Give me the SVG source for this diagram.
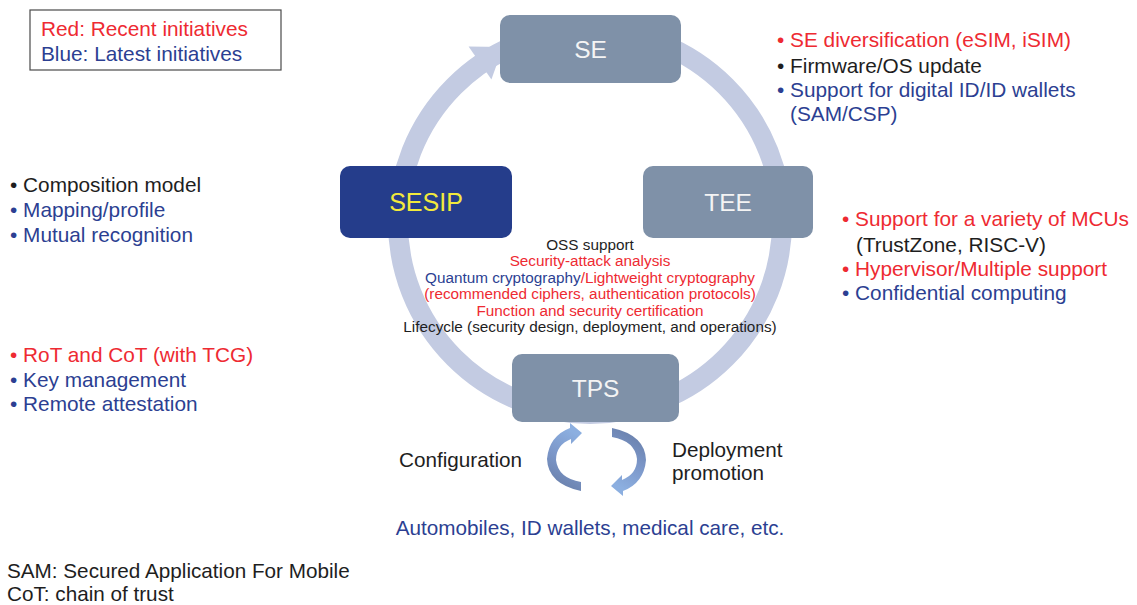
<svg xmlns="http://www.w3.org/2000/svg" width="1137" height="605" viewBox="0 0 1137 605">
  <defs>
    <style>
      text { font-family: "Liberation Sans", Arial, sans-serif; }
      .t { font-size: 20.8px; }
      .s { font-size: 15.3px; }
      .m { font-size: 20.7px; }
      .red { fill: #ee2a32; }
      .blue { fill: #2c3f92; }
      .blk { fill: #1e1e1e; }
      .box { fill: #7f91a8; }
      .boxlbl { font-size: 24.5px; fill: #f4f4f4; text-anchor: middle; }
      .ring { fill: none; stroke: #c3cbe2; stroke-width: 20; }
    </style>
    <linearGradient id="cyc" x1="0" y1="1" x2="0.3" y2="0">
      <stop offset="0" stop-color="#6479a2"/>
      <stop offset="0.55" stop-color="#7b96c8"/>
      <stop offset="1" stop-color="#8cafe0"/>
    </linearGradient>
  </defs>

  <rect width="1137" height="605" fill="#ffffff"/>

  <!-- legend -->
  <g id="legend">
    <rect x="30" y="10" width="251" height="60" fill="#ffffff" stroke="#4a4a4a" stroke-width="1.2"/>
    <text x="41" y="36" class="t red">Red: Recent initiatives</text>
    <text x="41" y="61" class="t blue">Blue: Latest initiatives</text>
  </g>

  <!-- cycle ring with arrowhead entering SE -->
  <g id="connectors">
    <circle cx="590" cy="222" r="192" class="ring"/>
    <polygon points="468.6,46.6 503,47 491.4,79.4" fill="#c3cbe2"/>
  </g>

  <g id="se">
    <rect x="500" y="15" width="181" height="68" rx="10" class="box"/>
    <text x="590.5" y="58" class="boxlbl">SE</text>
  </g>
  <g id="sesip">
    <rect x="340" y="166" width="172" height="72" rx="10" fill="#253d8b"/>
    <text x="426" y="211" class="boxlbl" style="fill:#f2e93c;font-size:25px">SESIP</text>
  </g>
  <g id="tee">
    <rect x="643" y="166" width="170" height="72" rx="10" class="box"/>
    <text x="728" y="211" class="boxlbl">TEE</text>
  </g>
  <g id="tps">
    <rect x="512" y="354" width="167" height="68" rx="10" class="box"/>
    <text x="595.5" y="397" class="boxlbl">TPS</text>
  </g>

  <!-- central topics -->
  <g id="center-topics" text-anchor="middle">
    <text x="590" y="250" class="s blk">OSS support</text>
    <text x="590" y="266" class="s red">Security-attack analysis</text>
    <text x="590" y="283" class="s"><tspan class="blue">Quantum cryptography</tspan><tspan class="red">/Lightweight cryptography</tspan></text>
    <text x="590" y="299" class="s red">(recommended ciphers, authentication protocols)</text>
    <text x="590" y="316" class="s red">Function and security certification</text>
    <text x="590" y="332" class="s blk">Lifecycle (security design, deployment, and operations)</text>
  </g>

  <!-- SE notes -->
  <g id="se-notes">
    <text x="777" y="47" class="t red">• SE diversification (eSIM, iSIM)</text>
    <text x="777" y="73" class="t blk">• Firmware/OS update</text>
    <text x="777" y="97" class="t blue">• Support for digital ID/ID wallets</text>
    <text x="790" y="121" class="t blue">(SAM/CSP)</text>
  </g>

  <!-- SESIP notes -->
  <g id="sesip-notes">
    <text x="10" y="192" class="t blk">• Composition model</text>
    <text x="10" y="217" class="t blue">• Mapping/profile</text>
    <text x="10" y="242" class="t blue">• Mutual recognition</text>
  </g>

  <!-- TEE notes -->
  <g id="tee-notes">
    <text x="842" y="226" class="t red">• Support for a variety of MCUs</text>
    <text x="856" y="252" class="t blk">(TrustZone, RISC-V)</text>
    <text x="842" y="276" class="t red">• Hypervisor/Multiple support</text>
    <text x="842" y="300" class="t blue">• Confidential computing</text>
  </g>

  <!-- TPS notes -->
  <g id="tps-notes">
    <text x="10" y="362" class="t red">• RoT and CoT (with TCG)</text>
    <text x="10" y="387" class="t blue">• Key management</text>
    <text x="10" y="411" class="t blue">• Remote attestation</text>
  </g>

  <!-- small configuration / deployment cycle -->
  <g id="mini-cycle">
    <path d="M 581,491 Q 548,484 547,459 Q 549,436 570,428 L 570,423 L 582,433 L 571,444 L 571,439 Q 556,445 556,460 Q 558,478 581,482 Z" fill="url(#cyc)"/>
    <path d="M 581,491 Q 548,484 547,459 Q 549,436 570,428 L 570,423 L 582,433 L 571,444 L 571,439 Q 556,445 556,460 Q 558,478 581,482 Z" fill="url(#cyc)" transform="rotate(180 596.5 459.5)"/>
  </g>
  <g id="configuration">
    <text x="399" y="467" class="m blk">Configuration</text>
  </g>
  <g id="deployment">
    <text x="672" y="457" class="m blk">Deployment</text>
    <text x="672" y="480" class="m blk">promotion</text>
  </g>
  <g id="applications">
    <text x="590" y="535" class="m blue" text-anchor="middle">Automobiles, ID wallets, medical care, etc.</text>
  </g>

  <!-- abbreviations -->
  <g id="footnotes">
    <text x="7" y="578" class="m blk">SAM: Secured Application For Mobile</text>
    <text x="7" y="601" class="m blk">CoT: chain of trust</text>
  </g>
</svg>
